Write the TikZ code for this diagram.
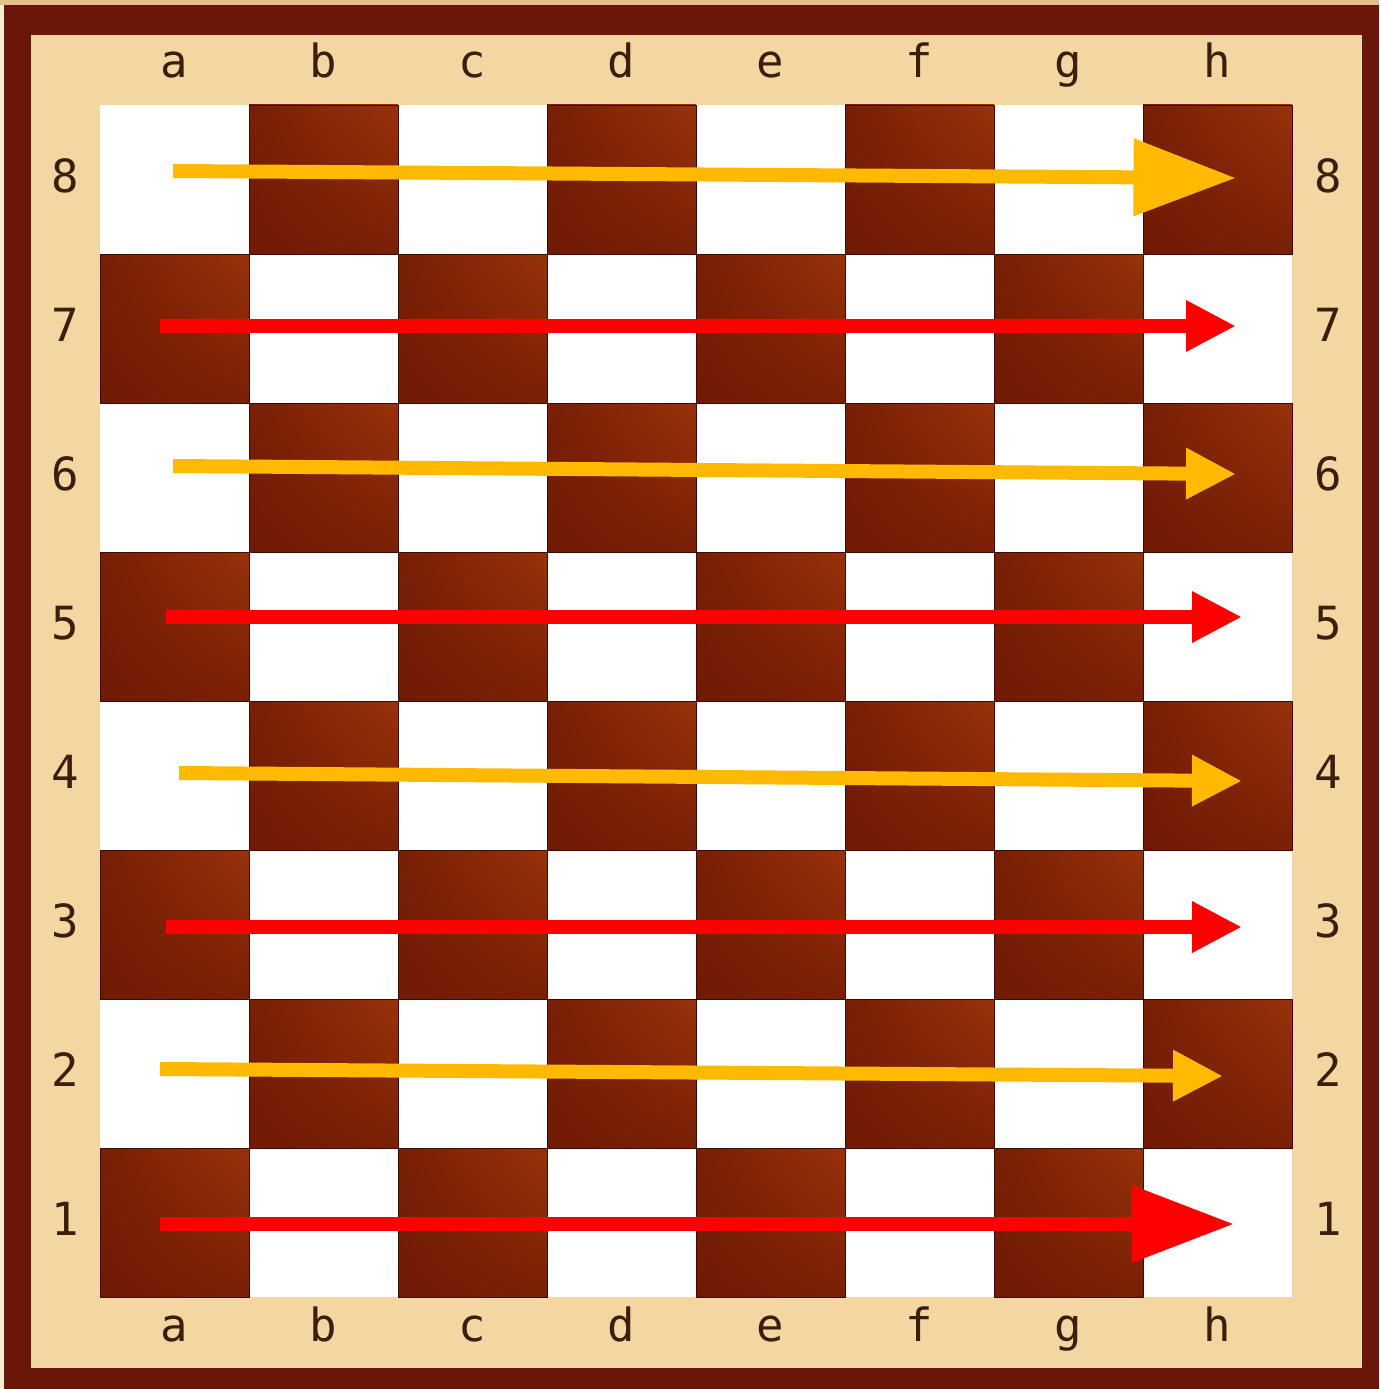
\documentclass[tikz,border=0pt]{standalone}
\usepackage{fontspec}
\setmonofont{DejaVu Sans Mono}
\usetikzlibrary{arrows.meta, shadings}
\definecolor{frame}{RGB}{106, 22, 8}
\definecolor{wood}{RGB}{244, 214, 162}
\definecolor{woodtop}{RGB}{228, 192, 140}
\definecolor{sqdark}{RGB}{112, 26, 5}
\definecolor{sqlight}{RGB}{152, 50, 10}
\definecolor{sqedge}{RGB}{58, 12, 2}
\definecolor{ink}{RGB}{58, 30, 14}
\definecolor{gold}{RGB}{255, 186, 0}
\definecolor{hot}{RGB}{255, 0, 0}

\begin{document}
\begin{tikzpicture}[
    x=0.02cm, y=-0.02cm,
    coordtext/.style={
        font=\ttfamily\fontsize{26}{28}\selectfont,
        text=ink, inner sep=0pt, anchor=base,
    },
    darksq/.style={
        draw=sqedge, line width=0.5pt,
        upper left=sqdark!80!sqlight, upper right=sqlight,
        lower left=sqdark, lower right=sqdark!75!sqlight,
    },
    move/.style={
        draw=#1, line width=0.28cm,
        -{Triangle[length=1.0cm, width=0.96cm]},
    },
    bigmove/.style={
        draw=#1, line width=0.28cm,
        -{Triangle[length=2.05cm, width=1.48cm]},
    },
]
\useasboundingbox (0,0) rectangle (1379,1389);

% =================================================
% Frame and wooden border
% =================================================
\fill[frame] (0,0) rectangle (1379,1389);
\fill[woodtop] (0,0) rectangle (1379,5);
\fill[wood!50!white] (0,5) rectangle (4,1389);
\fill[wood] (31,35) rectangle (1362,1368);

% =================================================
% Board squares
% =================================================
\fill[white] (100,105) rectangle (1292,1297);
\foreach \c in {0,...,7} {
    \foreach \r in {0,...,7} {
        \pgfmathtruncatemacro\sqodd{mod(\c+\r,2)}
        \ifnum\sqodd=1
            \shadedraw[darksq] (100+149*\c,105+149*\r) rectangle ++(149,149);
        \fi
    }
}

% =================================================
% Files and ranks
% =================================================
\foreach \f [count=\i from 0] in {a,b,c,d,e,f,g,h} {
    \node[coordtext] (top-\f) at (174.5+149*\i, 78)   {\f};
    \node[coordtext] (bot-\f) at (174.5+149*\i, 1341) {\f};
}
\foreach \n in {1,...,8} {
    \node[coordtext] (left-\n)  at (65,   192+149*8-149*\n) {\n};
    \node[coordtext] (right-\n) at (1328, 192+149*8-149*\n) {\n};
}

% =================================================
% Row-by-row arrows
% =================================================
\coordinate (s8) at (173,171);  \coordinate (e8) at (1236,178);
\coordinate (s7) at (160,326);  \coordinate (e7) at (1236,326);
\coordinate (s6) at (173,466);  \coordinate (e6) at (1236,474);
\coordinate (s5) at (166,617);  \coordinate (e5) at (1242,617);
\coordinate (s4) at (179,773);  \coordinate (e4) at (1242,781);
\coordinate (s3) at (166,927);  \coordinate (e3) at (1242,927);
\coordinate (s2) at (160,1069); \coordinate (e2) at (1223,1076);
\coordinate (s1) at (160,1224); \coordinate (e1) at (1234,1224);

\draw[bigmove=gold] (s8) -- (e8);
\draw[move=hot]     (s7) -- (e7);
\draw[move=gold]    (s6) -- (e6);
\draw[move=hot]     (s5) -- (e5);
\draw[move=gold]    (s4) -- (e4);
\draw[move=hot]     (s3) -- (e3);
\draw[move=gold]    (s2) -- (e2);
\draw[bigmove=hot]  (s1) -- (e1);

\end{tikzpicture}
\end{document}
